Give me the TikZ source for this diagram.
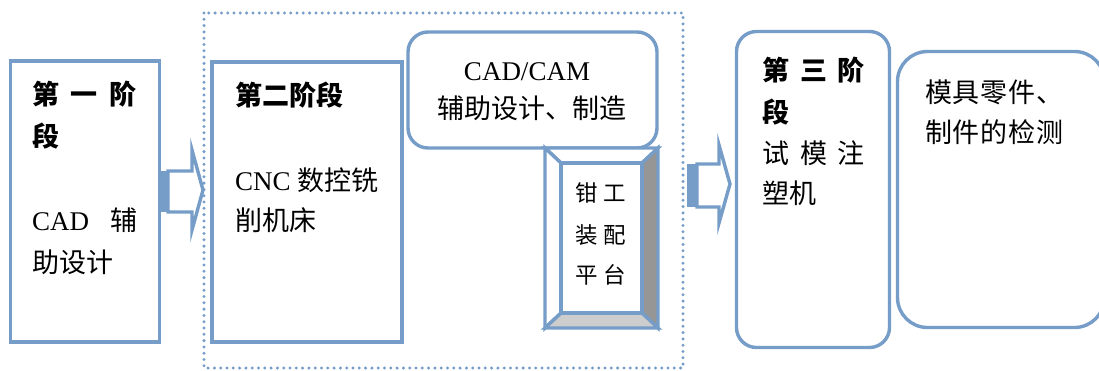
\documentclass[tikz,border=0pt]{standalone}
\usepackage{fontspec}
\setmainfont{Liberation Serif}
\newfontfamily\cjk{Noto Sans CJK SC}
\newcommand\zh[1]{{\cjk #1}}
\newcommand\zhb[1]{{\cjk\bfseries #1}}
\definecolor{bline}{RGB}{118,156,200}
\definecolor{bevdark}{RGB}{150,150,150}
\definecolor{bevlight}{RGB}{205,205,205}
\begin{document}
\begin{tikzpicture}[x=1pt,y=-1pt,
  box/.style={draw=bline,line width=3.4pt,fill=white,inner sep=0pt,outer sep=0pt},
  txt/.style={inner sep=0pt,outer sep=0pt,font=\fontsize{27}{27}\selectfont},
  stxt/.style={inner sep=0pt,outer sep=0pt,font=\fontsize{22.5}{22.5}\selectfont},
  arr/.style={draw=bline,line width=3.4pt,fill=white,line join=miter},
  bev/.style={draw=bline,line width=3.4pt,line join=miter},
  dotbox/.style={draw=bline,line width=3.3pt,line cap=round,dash pattern=on 0pt off 6.3pt}]
\useasboundingbox (0,0) rectangle (1099,370);
% dotted frame
\draw[dotbox] (204,13) rectangle (683,368);
% box 1
\node[box,minimum width=149pt,minimum height=281pt] (b1) at (85,201.5) {};
\node[txt,anchor=base west] (t1a) at (32,104) {\hbox to 105pt{\zhb{第}\hfill\zhb{一}\hfill\zhb{阶}}};
\node[txt,anchor=base west] (t1b) at (32,146) {\zhb{段}};
\node[txt,anchor=base west] (t1c) at (32,230) {\hbox to 105pt{CAD\hfill\zh{辅}}};
\node[txt,anchor=base west] (t1d) at (32,272) {\zh{助设计}};
% box 2
\node[box,minimum width=190pt,minimum height=280pt] (b2) at (307,202) {};
\node[txt,anchor=base west] (t2a) at (235,105) {\zhb{第二阶段}};
\node[txt,anchor=base west] (t2b) at (235,190) {CNC \zh{数控铣}};
\node[txt,anchor=base west] (t2c) at (235,230) {\zh{削机床}};
% CAD/CAM box
\node[box,rounded corners=20pt,minimum width=249pt,minimum height=116pt] (cam) at (532.5,90) {};
\node[txt,anchor=base] (t3a) at (527,80) {CAD/CAM};
\node[txt,anchor=base] (t3b) at (532,118) {\zh{辅助设计、制造}};
% bevel platform
\coordinate (oTL) at (545,148); \coordinate (oTR) at (658,148);
\coordinate (oBL) at (545,328); \coordinate (oBR) at (658,328);
\coordinate (iTL) at (561,163); \coordinate (iTR) at (642,163);
\coordinate (iBL) at (561,313); \coordinate (iBR) at (642,313);
\draw[bev,fill=white] (oTL) -- (oTR) -- (iTR) -- (iTL) -- cycle;
\draw[bev,fill=white] (oTL) -- (iTL) -- (iBL) -- (oBL) -- cycle;
\draw[bev,fill=bevdark] (oTR) -- (oBR) -- (iBR) -- (iTR) -- cycle;
\draw[bev,fill=bevlight] (oBL) -- (oBR) -- (iBR) -- (iBL) -- cycle;
\node[box,minimum width=81pt,minimum height=150pt] (plat) at (601.5,238) {};
\node[stxt,anchor=base west] (t4a) at (575,201) {\zh{钳}\hspace{6pt}\zh{工}};
\node[stxt,anchor=base west] (t4b) at (575,243) {\zh{装}\hspace{6pt}\zh{配}};
\node[stxt,anchor=base west] (t4c) at (575,283) {\zh{平}\hspace{6pt}\zh{台}};
% box 3
\node[box,rounded corners=20pt,minimum width=153pt,minimum height=316pt] (b3) at (813,189.5) {};
\node[txt,anchor=base west] (t5a) at (762,80) {\hbox to 103pt{\zhb{第}\hfill\zhb{三}\hfill\zhb{阶}}};
\node[txt,anchor=base west] (t5b) at (762,122) {\zhb{段}};
\node[txt,anchor=base west] (t5c) at (762,163) {\hbox to 103pt{\zh{试}\hfill\zh{模}\hfill\zh{注}}};
\node[txt,anchor=base west] (t5d) at (762,203) {\zh{塑机}};
% box 4 (right edge falls just outside the picture)
\node[box,rounded corners=30pt,minimum width=207pt,minimum height=276pt] (b4) at (1001,189.5) {};
\node[txt,anchor=base west] (t6a) at (925,102) {\hbox to 138pt{\zh{模}\hfil\zh{具}\hfil\zh{零}\hfil\zh{件}\hfil\zh{、}}};
\node[txt,anchor=base west] (t6b) at (925,142) {\hbox to 138pt{\zh{制}\hfil\zh{件}\hfil\zh{的}\hfil\zh{检}\hfil\zh{测}}};
% arrow 1
\fill[bline] (159,171) rectangle (168,212);
\draw[arr] (168,171) -- (192,171) -- (192,150) -- (203,190) -- (192,230) -- (192,212) -- (168,212) -- cycle;
% arrow 2
\fill[bline] (687,164) rectangle (697,207);
\draw[arr] (697,164) -- (719,164) -- (719,145) -- (730,184) -- (719,223) -- (719,207) -- (697,207) -- cycle;
\end{tikzpicture}
\end{document}
